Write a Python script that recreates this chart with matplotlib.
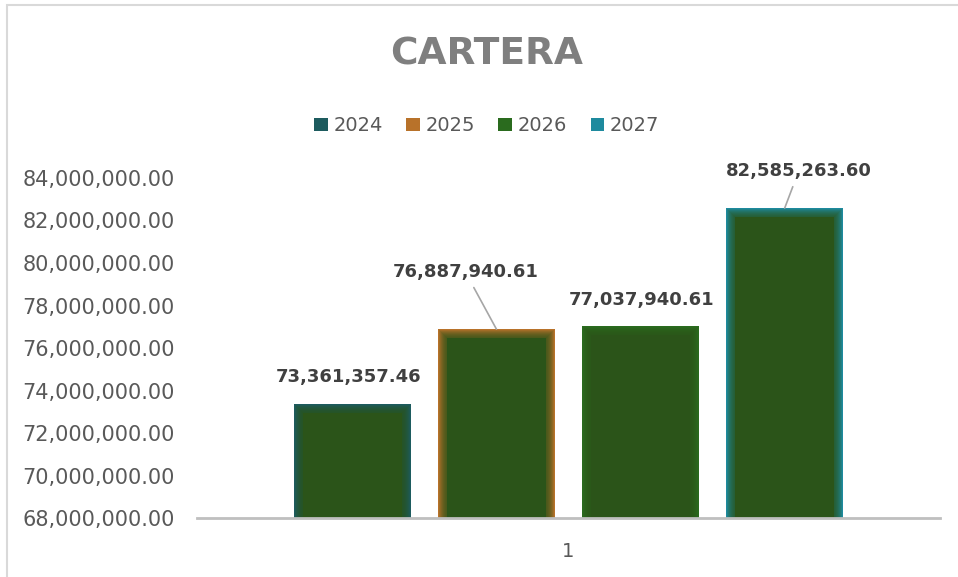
import numpy as np
import matplotlib.pyplot as plt
from matplotlib.patches import Rectangle

years = ['2024', '2025', '2026', '2027']
valores = [73361357.46, 76887940.61, 77037940.61, 82585263.60]
colores = ['#1d5b5e', '#b8722a', '#2a6b1e', '#1e8a9e']
relleno = '#2b5419'
categoria = ['1']

# posicion de las etiquetas respecto al tope de cada barra (pixeles)
offs = [(-4, 27), (-31, 57), (1, 26), (14, 37)]
guia = [False, True, False, True]

fig = plt.figure(figsize=(9.58, 5.77), dpi=100)
fig.patches.append(Rectangle((7 / 958, -0.1), 1.2, 1 - 5 / 577 + 0.1,
                             transform=fig.transFigure, fill=False,
                             edgecolor='#d9d9d9', linewidth=1.5))

ax = fig.add_axes([197 / 958, 1 - 518 / 577, 743 / 958, 340 / 577])
ax.set_xlim(-0.5, 0.5)
ax.set_ylim(68000000, 84000000)

ancho = 0.1575
paso = 0.194
px_x = 1 / 743
px_y = 16000000 / 340
base = 68000000

for i, (yr, v, c) in enumerate(zip(years, valores, colores)):
    x = (i - 1.5) * paso
    ax.bar(x, v - base, width=ancho, bottom=base, color=c, label=yr, zorder=2)
    # borde difuminado
    for k in range(1, 10):
        w = ancho - 2 * k * px_x
        h = v - base - k * px_y
        ax.bar(x, h, width=w, bottom=base, color=relleno,
               alpha=0.16 if k < 9 else 1.0, zorder=2 + k * 0.01)
    txt = f'{v:,.2f}'
    props = dict(arrowstyle='-', color='#a6a6a6', lw=1.2, shrinkA=3, shrinkB=0) if guia[i] else None
    ax.annotate(txt, xy=(x, v), xytext=offs[i], textcoords='offset pixels',
                ha='center', va='center', fontsize=13, fontweight='bold',
                color='#404040', arrowprops=props, zorder=5)

for s in ['top', 'right', 'left']:
    ax.spines[s].set_visible(False)
ax.spines['bottom'].set_color('#bfbfbf')
ax.spines['bottom'].set_linewidth(2)

ax.set_yticks(np.arange(68000000, 84000001, 2000000))
ax.yaxis.set_major_formatter(plt.FuncFormatter(lambda v, p: f'{v:,.2f}'))
ax.set_xticks([0])
ax.set_xticklabels(categoria)
ax.tick_params(axis='y', length=0, pad=16, labelsize=15, labelcolor='#595959')
ax.tick_params(axis='x', length=0, pad=17, labelsize=14, labelcolor='#595959')

fig.text(0.508, 0.905, 'CARTERA', ha='center', va='center', fontsize=27,
         fontweight='bold', color='#7f7f7f')

h, l = ax.get_legend_handles_labels()
fig.legend(h[:4], l[:4], loc='center', bbox_to_anchor=(0.508, 0.782), ncol=4,
           frameon=False, fontsize=14, labelcolor='#595959', handlelength=0.7,
           handleheight=0.7, handletextpad=0.3, columnspacing=1.2)

fig.savefig('out.png', dpi=100)
